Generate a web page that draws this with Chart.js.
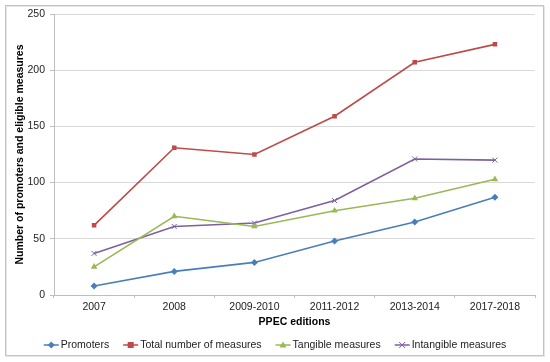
<!DOCTYPE html>
<html>
<head>
<meta charset="utf-8">
<script src="https://cdn.jsdelivr.net/npm/chart.js@4/dist/chart.umd.min.js"></script>
<style>
  html, body { margin: 0; padding: 0; background: #fff; }
  #wrap { width: 550px; height: 362px; position: relative; }
</style>
</head>
<body>
<div id="wrap"><canvas id="chart"></canvas></div>
<script>
const editions = ["2007", "2008", "2009-2010", "2011-2012", "2013-2014", "2017-2018"];
const promoters = [8, 21, 29, 48, 65, 87];
const totalMeasures = [62, 131, 125, 159, 207, 223];
const tangible = [25, 70, 61, 75, 86, 103];
const intangible = [37, 61, 64, 84, 121, 120];

const FONT = "'Liberation Sans', Arial, sans-serif";

// frame around the whole chart
const framePlugin = {
  id: "frame",
  beforeDraw(chart) {
    const ctx = chart.ctx;
    ctx.save();
    ctx.fillStyle = "#fff";
    ctx.fillRect(0, 0, chart.width, chart.height);
    ctx.strokeStyle = "#e6e6e6";
    ctx.lineWidth = 1;
    ctx.strokeRect(6.5, 6.5, 538, 350);
    ctx.strokeStyle = "#c4c4c4";
    ctx.strokeRect(5.5, 5.5, 538, 350);
    ctx.restore();
  }
};

function drawMarker(ctx, style, x, y, color) {
  ctx.save();
  ctx.fillStyle = color;
  ctx.strokeStyle = color;
  ctx.beginPath();
  if (style === "rectRot") {
    ctx.moveTo(x, y - 3.5); ctx.lineTo(x + 3.5, y); ctx.lineTo(x, y + 3.5); ctx.lineTo(x - 3.5, y);
    ctx.closePath(); ctx.fill();
  } else if (style === "rect") {
    ctx.fillRect(x - 3, y - 3, 6, 6);
  } else if (style === "triangle") {
    ctx.moveTo(x, y - 3.5); ctx.lineTo(x + 3.5, y + 2.5); ctx.lineTo(x - 3.5, y + 2.5);
    ctx.closePath(); ctx.fill();
  } else if (style === "crossRot") {
    ctx.lineWidth = 1;
    ctx.moveTo(x - 3, y - 3); ctx.lineTo(x + 3, y + 3);
    ctx.moveTo(x + 3, y - 3); ctx.lineTo(x - 3, y + 3);
    ctx.stroke();
  }
  ctx.restore();
}

// legend drawn as line + marker + label, like the office chart
const legendPlugin = {
  id: "lineLegend",
  afterDraw(chart) {
    const ctx = chart.ctx;
    const sets = chart.data.datasets;
    const lineLen = 15, gapText = 2, gapItem = 14, y = 345;
    ctx.save();
    ctx.font = "10.5px " + FONT;
    const widths = sets.map(d => lineLen + gapText + ctx.measureText(d.label).width);
    const total = widths.reduce((a, b) => a + b, 0) + gapItem * (sets.length - 1);
    let x = 275 - total / 2;
    sets.forEach((d, i) => {
      ctx.strokeStyle = d.borderColor;
      ctx.lineWidth = 1.5;
      ctx.beginPath();
      ctx.moveTo(x, y);
      ctx.lineTo(x + lineLen, y);
      ctx.stroke();
      drawMarker(ctx, d.pointStyle, x + lineLen / 2, y, d.borderColor);
      ctx.fillStyle = "#222";
      ctx.textBaseline = "middle";
      ctx.textAlign = "left";
      ctx.fillText(d.label, x + lineLen + gapText, y + 0.5);
      x += widths[i] + gapItem;
    });
    ctx.restore();
  }
};

function series(label, data, color, style, radius) {
  return {
    label: label,
    data: data,
    borderColor: color,
    backgroundColor: color,
    borderWidth: 1.6,
    pointStyle: style,
    pointRadius: radius,
    pointHoverRadius: radius,
    pointBorderWidth: style === "crossRot" ? 1 : 0,
    tension: 0
  };
}

new Chart(document.getElementById("chart"), {
  type: "line",
  data: {
    labels: editions,
    datasets: [
      series("Promoters", promoters, "#4a7ebb", "rectRot", 3.5),
      series("Total number of measures", totalMeasures, "#be4b48", "rect", 3.2),
      series("Tangible measures", tangible, "#98b954", "triangle", 3.8),
      series("Intangible measures", intangible, "#7d60a0", "crossRot", 3.5)
    ]
  },
  options: {
    responsive: true,
    maintainAspectRatio: false,
    animation: false,
    layout: { padding: { top: 14, right: 15, bottom: 0, left: 0 } },
    plugins: {
      legend: { display: false },
      tooltip: { enabled: false }
    },
    scales: {
      x: {
        offset: true,
        afterFit: (s) => { s.height = 67; },
        grid: { offset: true, drawOnChartArea: false, drawTicks: true, tickLength: 3, color: "#bfbfbf" },
        border: { color: "#bfbfbf", width: 1 },
        ticks: { color: "#222", padding: 3, font: { family: FONT, size: 10.5 }, maxRotation: 0 },
        title: {
          display: true,
          text: "PPEC editions",
          color: "#000",
          font: { family: FONT, size: 10.5, weight: "bold" },
          padding: { top: 0, bottom: 33.7 }
        }
      },
      y: {
        min: 0,
        max: 250,
        afterFit: (s) => { s.width = 54; },
        grid: { color: "#d9d9d9", tickLength: 4, tickColor: "#bfbfbf" },
        border: { color: "#bfbfbf", width: 1 },
        ticks: { stepSize: 50, color: "#222", padding: 5, font: { family: FONT, size: 10.5 } },
        title: {
          display: true,
          text: "Number of promoters and eligible measures",
          color: "#000",
          font: { family: FONT, size: 10.5, weight: "bold" },
          padding: { top: 13.7, bottom: 0 }
        }
      }
    }
  },
  plugins: [framePlugin, legendPlugin]
});
</script>
</body>
</html>
